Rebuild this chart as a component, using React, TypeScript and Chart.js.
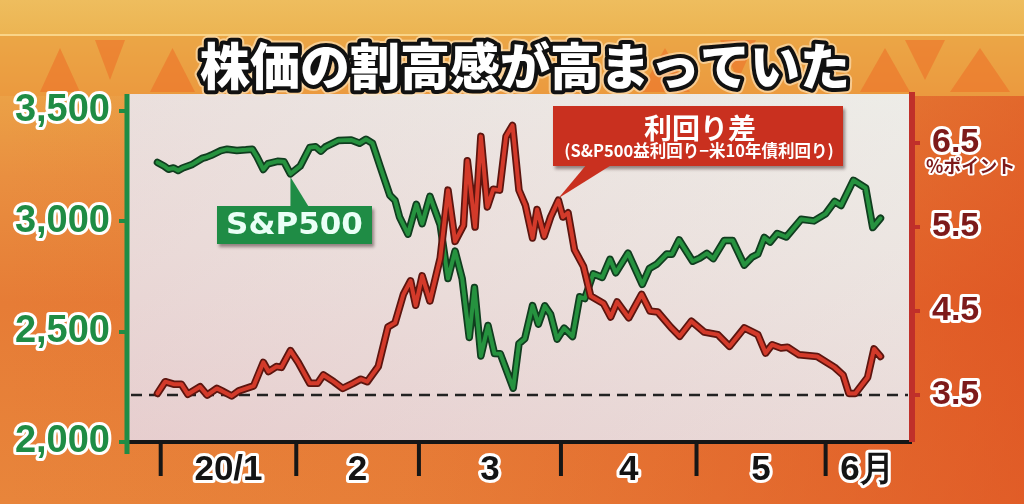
import React, { useEffect, useRef } from 'react';
import { Chart, registerables } from 'chart.js';

Chart.register(...registerables);

// ---------- data ----------
const titleText = '株価の割高感が高まっていた';
const spxLabel = 'S&P500';
const spreadLabel = '利回り差';
const spreadSubLabel = '(S&P500益利回り−米10年債利回り)';
const rightUnit = '%ポイント';

// trading-day position (0 = 2019/12/31) of month boundaries
const monthBoundaries = [0.5, 21.5, 40.5, 62.5, 83.5, 103.5];
const monthLabels = ['20/1', '2', '3', '4', '5', '6月'];
const monthLabelPositions = [11, 31, 51.5, 73, 93.5, 110];

const leftTicks = [2000, 2500, 3000, 3500];
const rightTicks = [3.5, 4.5, 5.5, 6.5];

// S&P500 (left axis)
const spxDays = [0, 1, 1.7, 2.5, 3.2, 3.9, 5.4, 6.9, 7.6, 8.3, 9.8, 10.8, 12.3, 13.7, 14.7, 15.4, 16.4, 17.1, 18.6, 19.6,
  20.6, 22.1, 23.6, 24.5, 25.3, 26.0, 28.0, 30.0, 31.3, 32.3, 33.3, 34.5, 36.0, 36.8, 37.5, 38.8, 40.1, 41.0, 42.2, 43.8,
  45.0, 46.1, 47.2, 48.3, 49.1, 50.1, 51.2, 52.2, 53.1, 55.1, 56.0, 56.9, 58.1, 59.0, 60.0, 60.9, 61.9, 63.0, 64.3, 65.4,
  66.2, 67.5, 68.9, 70.1, 71.0, 72.9, 75.1, 76.2, 77.4, 78.9, 79.7, 80.8, 82.9, 84.0, 85.1, 86.1, 87.8, 89.1, 90.9, 92.1,
  93.0, 94.0, 94.9, 96.0, 97.4, 99.7, 101.7, 103.5, 104.9, 105.9, 107.8, 109.7, 110.8, 112.0];
const spxValues = [3267, 3251, 3236, 3242, 3230, 3242, 3258, 3285, 3291, 3299, 3320, 3327, 3321, 3324, 3327, 3293, 3235, 3261, 3272, 3270,
  3215, 3250, 3335, 3338, 3318, 3337, 3366, 3369, 3354, 3372, 3354, 3248, 3118, 3095, 3019, 2942, 3077, 2989, 3113, 2984,
  2741, 2865, 2740, 2474, 2700, 2390, 2528, 2401, 2400, 2244, 2446, 2468, 2618, 2534, 2617, 2578, 2466, 2516, 2478, 2658,
  2650, 2762, 2746, 2828, 2767, 2856, 2714, 2786, 2807, 2852, 2851, 2916, 2819, 2833, 2855, 2831, 2913, 2913, 2802, 2838,
  2851, 2927, 2906, 2945, 2929, 3009, 3002, 3034, 3090, 3072, 3186, 3151, 2972, 3014];

// yield spread (right axis, % points)
const spreadDays = [0, 1.2, 2.5, 3.7, 4.7, 6.6, 7.7, 9.2, 10.0, 11.5, 12.6, 14.9, 16.4, 17.2, 18.4, 19.2, 20.6, 21.8, 23.6, 24.8,
  25.7, 27.3, 28.7, 30.3, 31.5, 32.5, 34.2, 35.7, 36.8, 38.1, 39.2, 40.0, 41.0, 42.2, 43.8, 45.0, 46.1, 47.4, 48.0, 49.2,
  50.1, 51.1, 52.0, 53.0, 54.0, 55.0, 56.0, 57.0, 58.1, 58.8, 59.9, 60.9, 62.1, 62.8, 63.6, 64.6, 66.0, 67.1, 69.1, 70.2,
  71.2, 73.0, 75.0, 76.3, 77.5, 79.5, 80.9, 82.7, 84.7, 86.8, 88.6, 90.9, 93.0, 94.2, 95.2, 96.6, 97.6, 99.4, 102.2, 104.9,
  106.2, 107.1, 108.1, 110.0, 111.0, 112.0];
const spreadValues = [3.52, 3.66, 3.63, 3.63, 3.51, 3.60, 3.50, 3.58, 3.55, 3.49, 3.55, 3.61, 3.89, 3.78, 3.84, 3.83, 4.03, 3.89, 3.64, 3.64,
  3.74, 3.66, 3.58, 3.64, 3.69, 3.66, 3.84, 4.31, 4.36, 4.70, 4.86, 4.57, 4.92, 4.62, 5.13, 5.94, 5.33, 5.52, 6.29, 5.50,
  6.58, 5.74, 5.95, 5.94, 6.58, 6.71, 5.94, 5.76, 5.37, 5.71, 5.39, 5.62, 5.82, 5.62, 5.67, 5.23, 5.03, 4.68, 4.59, 4.43,
  4.61, 4.42, 4.70, 4.50, 4.49, 4.31, 4.20, 4.38, 4.25, 4.22, 4.08, 4.30, 4.22, 4.00, 4.10, 4.06, 4.07, 3.98, 3.96, 3.83,
  3.74, 3.52, 3.52, 3.71, 4.05, 3.96];
const spreadFloor = 3.5; // dashed reference line

const spxCalloutIndex = 20;
const spreadCalloutIndex = 52;

// ---------- styling ----------
const GREEN = '#1f8c45';
const GREEN_LINE = '#26923f';
const GREEN_DARK = '#103d1f';
const RED = '#c9301f';
const RED_LINE = '#d33a2a';
const RED_DARK = '#5c150f';
const MAROON = '#7d1a1a';
const NUM_FONT = '"Liberation Sans", Arial, sans-serif';
const JP_FONT = '"Noto Sans CJK JP", "Noto Sans", sans-serif';

// decorative shapes in the title band: [x, width, kind]
const bandShapes: [number, number, number][] = [
  [40, 40, 0], [95, 30, 1], [150, 45, 0], [560, 40, 1], [640, 50, 0], [720, 36, 1],
  [860, 50, 0], [905, 40, 1], [950, 60, 0],
];

const decorPlugin = {
  id: 'decor',
  beforeDraw(chart: any) {
    const { ctx, width, height, chartArea } = chart;
    ctx.save();
    // background
    const g = ctx.createLinearGradient(0, 0, 0, height);
    g.addColorStop(0, '#eebd5e');
    g.addColorStop(0.07, '#ecb452');
    g.addColorStop(0.2, '#eba046');
    g.addColorStop(0.35, '#e98f40');
    g.addColorStop(0.6, '#e67c36');
    g.addColorStop(1, '#e8853b');
    ctx.fillStyle = g;
    ctx.fillRect(0, 0, width, height);
    const h = ctx.createLinearGradient(0, 0, width, 0);
    h.addColorStop(0, 'rgba(222,72,30,0)');
    h.addColorStop(0.4, 'rgba(222,72,30,0.12)');
    h.addColorStop(1, 'rgba(220,66,26,0.6)');
    ctx.fillStyle = h;
    ctx.fillRect(0, 96, width, height - 96);
    // title band
    ctx.fillStyle = 'rgba(236,140,50,0.35)';
    ctx.fillRect(0, 36, width, 60);
    ctx.fillStyle = 'rgba(255,225,160,0.7)';
    ctx.fillRect(0, 34, width, 2);
    ctx.fillStyle = 'rgba(236,110,38,0.55)';
    for (const [x, w, kind] of bandShapes) {
      ctx.beginPath();
      if (kind === 0) {
        ctx.moveTo(x, 92);
        ctx.lineTo(x + w / 2, 48);
        ctx.lineTo(x + w, 92);
      } else {
        ctx.moveTo(x, 40);
        ctx.lineTo(x + w, 40);
        ctx.lineTo(x + w / 2, 80);
      }
      ctx.closePath();
      ctx.fill();
    }
    // panel
    const top = 94;
    const p = ctx.createLinearGradient(0, top, 0, chartArea.bottom);
    p.addColorStop(0, '#ecebe6');
    p.addColorStop(0.45, '#ebe2de');
    p.addColorStop(1, '#e7d3d2');
    ctx.fillStyle = p;
    ctx.fillRect(chartArea.left, top, chartArea.right - chartArea.left, chartArea.bottom - top);
    const q = ctx.createLinearGradient(chartArea.left, 0, chartArea.right, 0);
    q.addColorStop(0, 'rgba(230,190,195,0.25)');
    q.addColorStop(1, 'rgba(240,240,236,0.25)');
    ctx.fillStyle = q;
    ctx.fillRect(chartArea.left, top, chartArea.right - chartArea.left, chartArea.bottom - top);
    // title
    ctx.font = `900 50px ${JP_FONT}`;
    ctx.textAlign = 'center';
    ctx.textBaseline = 'middle';
    ctx.lineJoin = 'round';
    ctx.strokeStyle = 'rgba(255,235,200,0.6)';
    ctx.lineWidth = 12;
    ctx.strokeText(titleText, 525, 66);
    ctx.strokeStyle = '#111';
    ctx.lineWidth = 8;
    ctx.strokeText(titleText, 525, 66);
    ctx.fillStyle = '#ffffff';
    ctx.fillText(titleText, 525, 66);
    ctx.restore();
    // rounded joins for the outlined tick labels drawn next by the scales
    ctx.lineJoin = 'round';
    ctx.miterLimit = 2;
  },
  beforeDatasetsDraw(chart: any) {
    const { ctx, chartArea, scales } = chart;
    const xs = scales.x;
    const yR = scales.yR;
    ctx.save();
    ctx.lineJoin = 'miter';
    ctx.miterLimit = 10;
    // dashed reference line
    const yd = yR.getPixelForValue(spreadFloor);
    ctx.strokeStyle = '#222';
    ctx.lineWidth = 2.5;
    ctx.setLineDash([11, 7]);
    ctx.beginPath();
    ctx.moveTo(chartArea.left + 4, yd);
    ctx.lineTo(chartArea.right - 4, yd);
    ctx.stroke();
    ctx.setLineDash([]);
    // bottom axis
    ctx.strokeStyle = '#161616';
    ctx.lineWidth = 4;
    ctx.beginPath();
    ctx.moveTo(chartArea.left, chartArea.bottom);
    ctx.lineTo(chartArea.right, chartArea.bottom);
    ctx.stroke();
    for (const b of monthBoundaries) {
      const x = xs.getPixelForValue(b);
      ctx.beginPath();
      ctx.moveTo(x, chartArea.bottom);
      ctx.lineTo(x, chartArea.bottom + 34);
      ctx.stroke();
    }
    // left axis
    ctx.strokeStyle = GREEN;
    ctx.lineWidth = 5;
    ctx.beginPath();
    ctx.moveTo(chartArea.left, 94);
    ctx.lineTo(chartArea.left, chartArea.bottom + 12);
    ctx.stroke();
    // right axis
    ctx.strokeStyle = '#c0302a';
    ctx.lineWidth = 6;
    ctx.beginPath();
    ctx.moveTo(chartArea.right, 92);
    ctx.lineTo(chartArea.right, chartArea.bottom);
    ctx.stroke();
    ctx.restore();
  },
  afterDatasetsDraw(chart: any) {
    const { ctx, scales } = chart;
    const xs = scales.x;
    ctx.save();
    // S&P500 callout
    const t1x = xs.getPixelForValue(spxDays[spxCalloutIndex]);
    const t1y = scales.yL.getPixelForValue(spxValues[spxCalloutIndex]);
    const b1 = { x: 217, y: 206, w: 155, h: 38 };
    ctx.shadowColor = 'rgba(40,20,20,0.45)';
    ctx.shadowOffsetX = 2;
    ctx.shadowOffsetY = 3;
    ctx.shadowBlur = 3;
    ctx.fillStyle = GREEN;
    ctx.fillRect(b1.x, b1.y, b1.w, b1.h);
    ctx.shadowColor = 'transparent';
    ctx.beginPath();
    ctx.moveTo(t1x, t1y + 3);
    ctx.lineTo(t1x, b1.y + 2);
    ctx.lineTo(t1x + 19, b1.y + 2);
    ctx.closePath();
    ctx.fill();
    ctx.fillStyle = '#eafff6';
    ctx.font = `bold 31px "DejaVu Sans", sans-serif`;
    ctx.textAlign = 'center';
    ctx.textBaseline = 'middle';
    ctx.fillText(spxLabel, b1.x + b1.w / 2, b1.y + b1.h / 2 + 1);

    // spread callout
    const t2x = xs.getPixelForValue(spreadDays[spreadCalloutIndex]);
    const t2y = scales.yR.getPixelForValue(spreadValues[spreadCalloutIndex]);
    const b2 = { x: 553, y: 106, w: 290, h: 60 };
    ctx.shadowColor = 'rgba(40,10,10,0.45)';
    ctx.shadowOffsetX = 2;
    ctx.shadowOffsetY = 3;
    ctx.shadowBlur = 3;
    ctx.fillStyle = RED;
    ctx.fillRect(b2.x, b2.y, b2.w, b2.h);
    ctx.shadowColor = 'transparent';
    ctx.beginPath();
    ctx.moveTo(b2.x + 34, b2.y + b2.h - 2);
    ctx.lineTo(b2.x + 60, b2.y + b2.h - 2);
    ctx.lineTo(t2x, t2y - 2);
    ctx.closePath();
    ctx.fill();
    ctx.fillStyle = '#ffffff';
    ctx.font = `bold 28px ${JP_FONT}`;
    ctx.fillText(spreadLabel, 700, 128);
    ctx.font = `bold 16.5px ${JP_FONT}`;
    ctx.fillText(spreadSubLabel, 699, 151);

    // unit label
    ctx.font = `bold 18px ${JP_FONT}`;
    ctx.textAlign = 'left';
    ctx.lineJoin = 'round';
    ctx.strokeStyle = '#ffffff';
    ctx.lineWidth = 4;
    ctx.strokeText(rightUnit, 926, 166);
    ctx.fillStyle = MAROON;
    ctx.fillText(rightUnit, 926, 166);
    ctx.restore();
  },
};

const toPoints = (xsArr: number[], ysArr: number[]) => xsArr.map((x, k) => ({ x, y: ysArr[k] }));

export default function App() {
  const ref = useRef<HTMLCanvasElement>(null);
  useEffect(() => {
    const canvas = ref.current;
    if (!canvas) return;
    const spx = toPoints(spxDays, spxValues);
    const spread = toPoints(spreadDays, spreadValues);
    const lineBase = { pointRadius: 0, tension: 0, borderJoinStyle: 'round', borderCapStyle: 'round', fill: false };
    const chart = new Chart(canvas, {
      type: 'line',
      data: {
        datasets: [
          { ...lineBase, label: 'S&P500 outline', data: spx, borderColor: GREEN_DARK, borderWidth: 7.5, yAxisID: 'yL', order: 4 },
          { ...lineBase, label: 'S&P500', data: spx, borderColor: GREEN_LINE, borderWidth: 4, yAxisID: 'yL', order: 3 },
          { ...lineBase, label: '利回り差 outline', data: spread, borderColor: RED_DARK, borderWidth: 7.5, yAxisID: 'yR', order: 2 },
          { ...lineBase, label: '利回り差', data: spread, borderColor: RED_LINE, borderWidth: 4, yAxisID: 'yR', order: 1 },
        ] as any,
      },
      options: {
        responsive: false,
        animation: false,
        events: [],
        layout: { padding: { top: 111, left: 0, right: 0, bottom: 0 } },
        plugins: { legend: { display: false }, tooltip: { enabled: false }, title: { display: false } },
        scales: {
          x: {
            type: 'linear',
            min: -4.72,
            max: 116.88,
            grid: { display: false, drawTicks: false },
            border: { display: false },
            afterBuildTicks: (s: any) => { s.ticks = monthLabelPositions.map((v) => ({ value: v })); },
            afterFit: (s: any) => { s.height = 62; },
            ticks: {
              autoSkip: false,
              maxRotation: 0,
              minRotation: 0,
              padding: 7,
              color: '#141414',
              textStrokeColor: '#ffffff',
              textStrokeWidth: 6,
              font: { family: NUM_FONT, size: 35, weight: 'bold' },
              callback: (_v: any, i: number) => monthLabels[i],
            },
          },
          yL: {
            type: 'linear',
            position: 'left',
            min: 2000,
            max: 3500,
            grid: { drawOnChartArea: false, drawTicks: true, tickLength: 8, color: GREEN, lineWidth: 4 },
            border: { display: false },
            afterBuildTicks: (s: any) => { s.ticks = leftTicks.map((v) => ({ value: v })); },
            afterFit: (s: any) => { s.width = 127; },
            ticks: {
              padding: 9,
              color: GREEN,
              textStrokeColor: '#ffffff',
              textStrokeWidth: 6,
              font: { family: NUM_FONT, size: 38, weight: 'bold' },
              callback: (v: any) => Number(v).toLocaleString('en-US'),
            },
          },
          yR: {
            type: 'linear',
            position: 'right',
            min: 2.942,
            max: 6.882,
            grid: { drawOnChartArea: false, drawTicks: true, tickLength: 8, color: '#c0302a', lineWidth: 4 },
            border: { display: false },
            afterBuildTicks: (s: any) => { s.ticks = rightTicks.map((v) => ({ value: v })); },
            afterFit: (s: any) => { s.width = 112; },
            ticks: {
              padding: 12,
              color: MAROON,
              textStrokeColor: '#ffffff',
              textStrokeWidth: 6,
              font: { family: NUM_FONT, size: 34, weight: 'bold' },
              callback: (v: any) => Number(v).toFixed(1),
            },
          },
        },
      } as any,
      plugins: [decorPlugin],
    });
    return () => chart.destroy();
  }, []);
  return (
    <div style={{ position: 'absolute', left: 0, top: 0, width: 1024, height: 504, overflow: 'hidden' }}>
      <canvas ref={ref} width={1024} height={504} style={{ display: 'block' }} />
    </div>
  );
}
